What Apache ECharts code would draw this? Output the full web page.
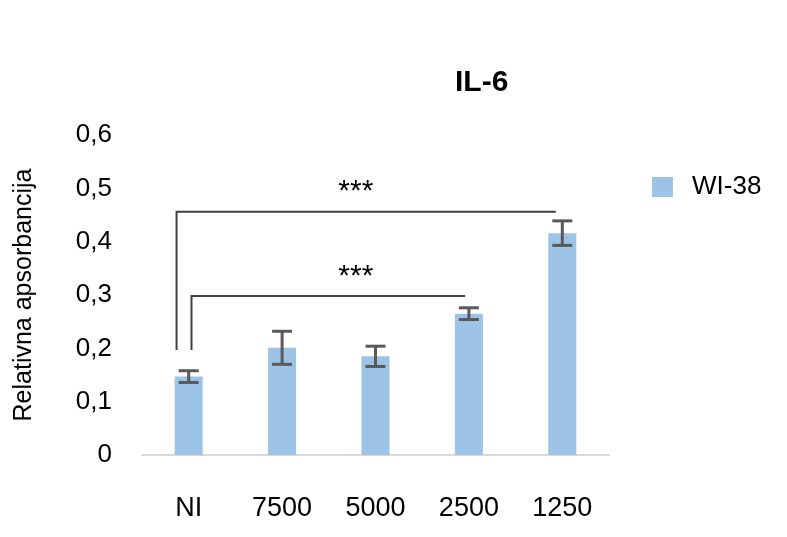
<!DOCTYPE html>
<html>
<head>
<meta charset="utf-8">
<script src="https://cdn.jsdelivr.net/npm/echarts@6/dist/echarts.min.js"></script>
<style>html,body{margin:0;padding:0;background:#fff}#c{width:787px;height:537px}</style>
</head>
<body>
<div id="c"></div>
<script>
var categories = ['NI', '7500', '5000', '2500', '1250'];
var values = [0.147, 0.201, 0.185, 0.265, 0.416];
var errors = [0.011, 0.031, 0.019, 0.011, 0.023];
var yTicks = [0, 0.1, 0.2, 0.3, 0.4, 0.5, 0.6];
// significance brackets: left/right in category positions, bottom/top in data units
var bracketLeft = [-0.13, 0.03];
var bracketRight = [3.93, 2.96];
var bracketBottom = [0.197, 0.197];
var bracketTop = [0.456, 0.298];
var starX = [1.79, 1.79];
var starY = [0.493, 0.334];
var starText = ['***', '***'];

var FONT = 'Liberation Sans, Arial, sans-serif';
var chart = echarts.init(document.getElementById('c'));

function px(api, pos, y) {
  var base = api.coord([0, y]);
  var bw = api.size([1, 0])[0];
  return [base[0] + pos * bw, base[1]];
}

chart.setOption({
  animation: false,
  title: {
    text: 'IL-6', left: 455, top: 68, padding: 0,
    textStyle: { fontFamily: FONT, fontSize: 30, fontWeight: 'bold', color: '#000' }
  },
  legend: {
    data: ['WI-38'], left: 652, top: 174, padding: 0, itemWidth: 21, itemHeight: 20,
    textStyle: { fontFamily: FONT, fontSize: 26, color: '#000', padding: [0, 0, 0, 14] },
    icon: 'rect'
  },
  grid: { left: 142, right: 178, top: 135, bottom: 82 },
  xAxis: {
    type: 'category', data: categories,
    axisLine: { lineStyle: { color: '#d9d9d9', width: 2 } },
    axisTick: { show: false },
    axisLabel: { fontFamily: FONT, fontSize: 27, color: '#000', margin: 40 }
  },
  yAxis: {
    type: 'value', min: 0, max: 0.6, interval: 0.1,
    name: 'Relativna apsorbancija', nameLocation: 'middle', nameGap: 105,
    nameTextStyle: { fontFamily: FONT, fontSize: 25, color: '#000' },
    axisLine: { show: false }, axisTick: { show: false },
    splitLine: { show: false },
    axisLabel: {
      fontFamily: FONT, fontSize: 26, color: '#000', margin: 30,
      formatter: function (v) {
        var t = yTicks.find(function (k) { return Math.abs(k - v) < 1e-9; });
        return (t === undefined ? v : t).toString().replace('.', ',');
      }
    }
  },
  series: [
    {
      name: 'WI-38', type: 'bar', data: values, barWidth: '30%',
      itemStyle: { color: '#9dc3e6' }
    },
    {
      type: 'custom', name: 'err',
      data: values.map(function (v, i) { return [i, v - errors[i], v + errors[i]]; }),
      renderItem: function (params, api) {
        var lo = api.coord([api.value(0), api.value(1)]);
        var hi = api.coord([api.value(0), api.value(2)]);
        var cap = 10;
        var st = { stroke: '#595959', lineWidth: 3 };
        return {
          type: 'group', children: [
            { type: 'line', shape: { x1: lo[0], y1: lo[1], x2: hi[0], y2: hi[1] }, style: st },
            { type: 'line', shape: { x1: lo[0] - cap, y1: lo[1], x2: lo[0] + cap, y2: lo[1] }, style: st },
            { type: 'line', shape: { x1: hi[0] - cap, y1: hi[1], x2: hi[0] + cap, y2: hi[1] }, style: st }
          ]
        };
      },
      z: 5
    },
    {
      type: 'custom', name: 'sig',
      data: bracketLeft.map(function (l, i) { return [0, bracketTop[i]]; }),
      renderItem: function (params, api) {
        var i = params.dataIndex;
        var a = px(api, bracketLeft[i], bracketBottom[i]);
        var b = px(api, bracketLeft[i], bracketTop[i]);
        var c = px(api, bracketRight[i], bracketTop[i]);
        var s = px(api, starX[i], starY[i]);
        var st = { stroke: '#404040', lineWidth: 2, fill: null };
        return {
          type: 'group', children: [
            { type: 'polyline', shape: { points: [a, b, c] }, style: st },
            { type: 'text', x: s[0], y: s[1], style: { text: starText[i], fontFamily: FONT, fontSize: 30, fill: '#000', align: 'center', verticalAlign: 'middle' } }
          ]
        };
      },
      z: 6
    }
  ]
});
</script>
</body>
</html>
